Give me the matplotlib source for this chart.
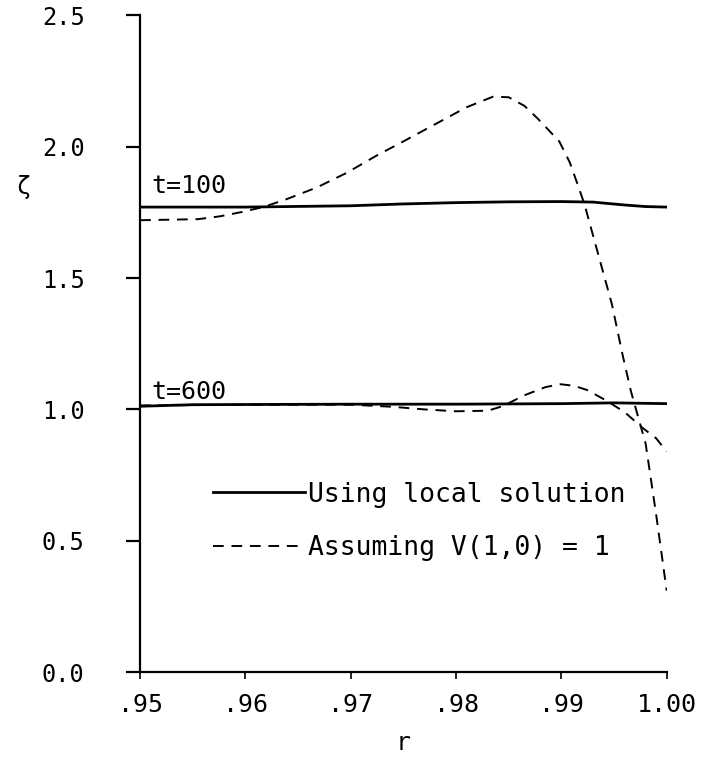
import matplotlib
matplotlib.use("Agg")
import matplotlib.pyplot as plt

# t = 100
r100_local = [.950, .960, .970, .975, .980, .985, .990, .993, .996, .998, 1.000]
z100_local = [1.770, 1.770, 1.775, 1.782, 1.787, 1.790, 1.791, 1.789, 1.778, 1.772, 1.770]

r100_assume = [.9500, .9555, .9576, .9595, .9617, .9639, .9668, .9696, .9725, .9750,
               .9780, .9810, .9835, .9850, .9865, .9878, .9898, .9908, .9916, .9922,
               .9935, .9948, .9958, .9966, .9980, .9990, 1.0000]
z100_assume = [1.720, 1.724, 1.735, 1.750, 1.770, 1.800, 1.845, 1.900, 1.967, 2.020,
               2.085, 2.150, 2.190, 2.188, 2.155, 2.105, 2.020, 1.940, 1.850, 1.780,
               1.590, 1.400, 1.210, 1.070, 0.870, 0.600, 0.310]

# t = 600
r600_local = [.950, .955, .970, .980, .990, .995, 1.000]
z600_local = [1.012, 1.018, 1.020, 1.020, 1.022, 1.025, 1.022]

r600_assume = [.950, .960, .970, .974, .977, .980, .983, .9844, .9865, .9885,
               .9899, .9912, .9925, .9942, .9960, .9977, .9990, 1.000]
z600_assume = [1.015, 1.018, 1.018, 1.010, 1.000, 0.993, 0.995, 1.012, 1.054, 1.085,
               1.096, 1.090, 1.073, 1.035, 0.990, 0.930, 0.890, 0.840]

xticks = [.95, .96, .97, .98, .99, 1.00]
xticklabels = [".95", ".96", ".97", ".98", ".99", "1.00"]
yticks = [0.0, 0.5, 1.0, 1.5, 2.0, 2.5]

plt.rcParams['font.family'] = ['DejaVu Sans Mono', 'DejaVu Sans']

fig = plt.figure(figsize=(7.04, 7.63), dpi=100)
ax = fig.add_axes([0.199, 0.119, 0.748, 0.861])

dash = (0, (5.5, 4))
ax.plot(r100_local, z100_local, color='black', lw=2.0, label='Using local solution')
ax.plot(r100_assume, z100_assume, color='black', lw=1.4, linestyle=dash,
        label='Assuming V(1,0) = 1')
ax.plot(r600_local, z600_local, color='black', lw=2.0)
ax.plot(r600_assume, z600_assume, color='black', lw=1.4, linestyle=dash)

ax.text(.9511, 1.825, 't=100', fontsize=18)
ax.text(.9511, 1.04, 't=600', fontsize=18)

ax.set_xlim(.95, 1.00)
ax.set_ylim(0, 2.5)
ax.set_xticks(xticks)
ax.set_xticklabels(xticklabels)
ax.set_yticks(yticks)
ax.set_yticklabels([f"{v:.1f}" for v in yticks])

for s in ['top', 'right']:
    ax.spines[s].set_visible(False)
ax.spines['left'].set_linewidth(1.6)
ax.spines['bottom'].set_linewidth(1.6)
ax.tick_params(axis='y', direction='out', length=10, width=1.6, pad=30, labelsize=17)
ax.tick_params(axis='x', direction='out', length=5, width=1.2, pad=10, labelsize=18)

ax.set_xlabel('r', fontsize=18, labelpad=10)
ax.text(-0.235, 1.845, 'ζ', transform=ax.get_yaxis_transform(), fontsize=17,
        ha='left', va='center')

leg = ax.legend(loc='upper left', bbox_to_anchor=(0.138, 0.29), frameon=False,
                fontsize=19, handlelength=3.5, handletextpad=0.1, labelspacing=1.05,
                borderpad=0, borderaxespad=0)

fig.savefig('out.png', dpi=100)
